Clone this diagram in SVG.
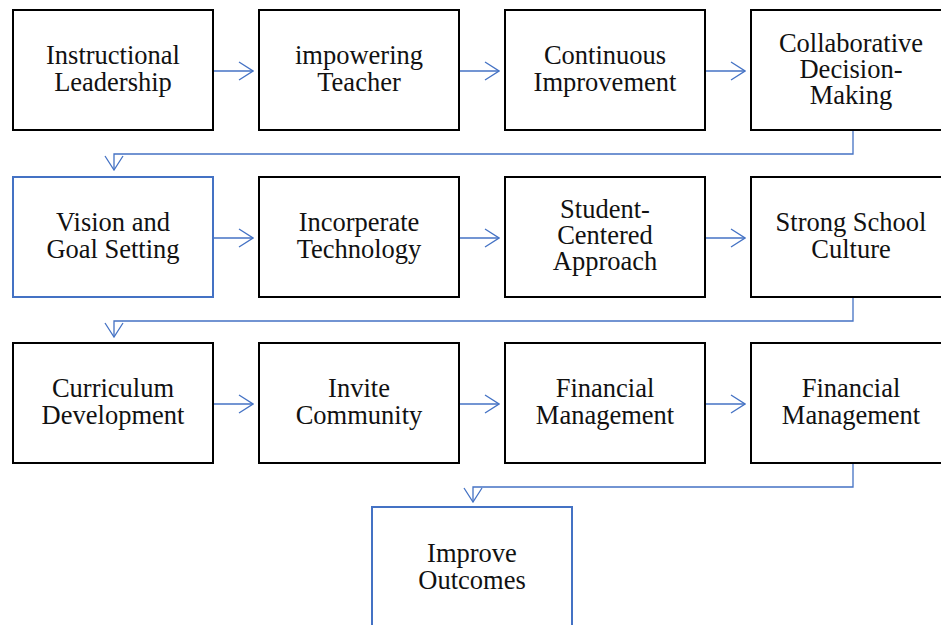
<svg xmlns="http://www.w3.org/2000/svg" width="941" height="625" viewBox="0 0 941 625">
  <style>
    .box { fill: #ffffff; stroke: #000000; stroke-width: 2; }
    .box.hl { stroke: #4472C4; }
    .lbl { font-family: "Liberation Serif", "Times New Roman", serif; font-size: 26.5px; fill: #111111; text-anchor: middle; }
    .conn { fill: none; stroke: #4472C4; stroke-width: 1.3; }
  </style>
  <defs>
    <marker id="chev" viewBox="0 0 16 20" refX="15" refY="10" markerWidth="16" markerHeight="20" markerUnits="userSpaceOnUse" orient="auto">
      <path d="M1,1 L15,10 L1,19" fill="none" stroke="#4472C4" stroke-width="1.3"/>
    </marker>
  </defs>
  <rect width="941" height="625" fill="#ffffff"/>

  <g id="connectors">
    <!-- row 1 -->
    <path class="conn" d="M214,71 H253" marker-end="url(#chev)"/>
    <path class="conn" d="M460,71 H499" marker-end="url(#chev)"/>
    <path class="conn" d="M706,71 H745" marker-end="url(#chev)"/>
    <path class="conn" d="M853,131 V154 H114 V170" marker-end="url(#chev)"/>
    <!-- row 2 -->
    <path class="conn" d="M214,238 H253" marker-end="url(#chev)"/>
    <path class="conn" d="M460,238 H499" marker-end="url(#chev)"/>
    <path class="conn" d="M706,238 H745" marker-end="url(#chev)"/>
    <path class="conn" d="M853,298 V321 H114 V337" marker-end="url(#chev)"/>
    <!-- row 3 -->
    <path class="conn" d="M214,404 H253" marker-end="url(#chev)"/>
    <path class="conn" d="M460,404 H499" marker-end="url(#chev)"/>
    <path class="conn" d="M706,404 H745" marker-end="url(#chev)"/>
    <path class="conn" d="M853,464 V487 H473 V502" marker-end="url(#chev)"/>
  </g>

  <!-- row 1 -->
  <g id="instructional-leadership">
    <rect class="box" x="13" y="10" width="200" height="120"/>
    <text class="lbl" x="113" y="64">Instructional</text>
    <text class="lbl" x="113" y="90.5">Leadership</text>
  </g>
  <g id="impowering-teacher">
    <rect class="box" x="259" y="10" width="200" height="120"/>
    <text class="lbl" x="359" y="64">impowering</text>
    <text class="lbl" x="359" y="90.5">Teacher</text>
  </g>
  <g id="continuous-improvement">
    <rect class="box" x="505" y="10" width="200" height="120"/>
    <text class="lbl" x="605" y="64">Continuous</text>
    <text class="lbl" x="605" y="90.5">Improvement</text>
  </g>
  <g id="collaborative-decision-making">
    <rect class="box" x="751" y="10" width="200" height="120"/>
    <text class="lbl" x="851" y="52">Collaborative</text>
    <text class="lbl" x="851" y="78">Decision-</text>
    <text class="lbl" x="851" y="104">Making</text>
  </g>

  <!-- row 2 -->
  <g id="vision-goal-setting">
    <rect class="box hl" x="13" y="177" width="200" height="120"/>
    <text class="lbl" x="113" y="231">Vision and</text>
    <text class="lbl" x="113" y="257.5">Goal Setting</text>
  </g>
  <g id="incorperate-technology">
    <rect class="box" x="259" y="177" width="200" height="120"/>
    <text class="lbl" x="359" y="231">Incorperate</text>
    <text class="lbl" x="359" y="257.5">Technology</text>
  </g>
  <g id="student-centered-approach">
    <rect class="box" x="505" y="177" width="200" height="120"/>
    <text class="lbl" x="605" y="218">Student-</text>
    <text class="lbl" x="605" y="244">Centered</text>
    <text class="lbl" x="605" y="270">Approach</text>
  </g>
  <g id="strong-school-culture">
    <rect class="box" x="751" y="177" width="200" height="120"/>
    <text class="lbl" x="851" y="231">Strong School</text>
    <text class="lbl" x="851" y="257.5">Culture</text>
  </g>

  <!-- row 3 -->
  <g id="curriculum-development">
    <rect class="box" x="13" y="343" width="200" height="120"/>
    <text class="lbl" x="113" y="397">Curriculum</text>
    <text class="lbl" x="113" y="423.5">Development</text>
  </g>
  <g id="invite-community">
    <rect class="box" x="259" y="343" width="200" height="120"/>
    <text class="lbl" x="359" y="397">Invite</text>
    <text class="lbl" x="359" y="423.5">Community</text>
  </g>
  <g id="financial-management-1">
    <rect class="box" x="505" y="343" width="200" height="120"/>
    <text class="lbl" x="605" y="397">Financial</text>
    <text class="lbl" x="605" y="423.5">Management</text>
  </g>
  <g id="financial-management-2">
    <rect class="box" x="751" y="343" width="200" height="120"/>
    <text class="lbl" x="851" y="397">Financial</text>
    <text class="lbl" x="851" y="423.5">Management</text>
  </g>

  <!-- final outcome -->
  <g id="improve-outcomes">
    <rect class="box hl" x="372" y="507" width="200" height="125"/>
    <text class="lbl" x="472" y="562">Improve</text>
    <text class="lbl" x="472" y="588.5">Outcomes</text>
  </g>
</svg>
